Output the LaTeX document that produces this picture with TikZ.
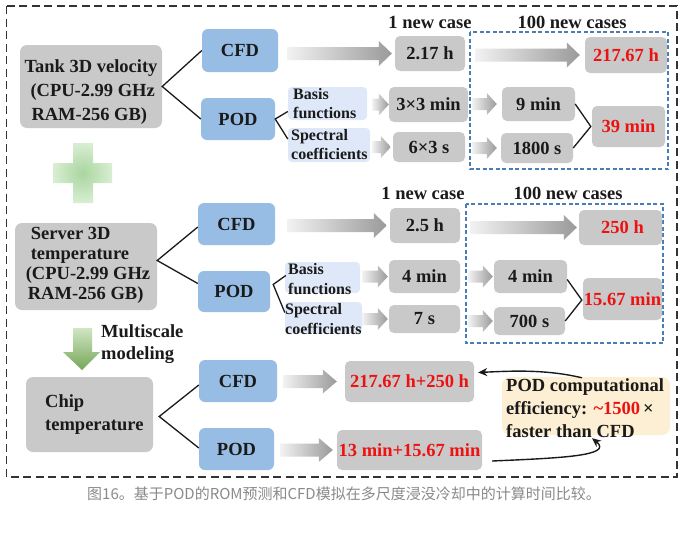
\documentclass[tikz,border=0pt]{standalone}
\usepackage{fontspec}
\setmainfont{Liberation Serif}[BoldFont={Liberation Serif Bold}]
\newfontfamily\tnr{Liberation Serif}[BoldFont={Liberation Serif Bold}]
\newfontfamily\cjk{Noto Sans CJK SC}
\usetikzlibrary{calc,arrows.meta}
\definecolor{boxgray}{HTML}{C9C9C9}
\definecolor{boxblue}{HTML}{97BDE5}
\definecolor{boxlt}{HTML}{DFE8F8}
\definecolor{boxorange}{HTML}{FDEFD3}
\definecolor{txtc}{HTML}{1A1A1A}
\definecolor{redc}{HTML}{EE1111}
\definecolor{dashblue}{HTML}{4A7CB5}
\definecolor{arrL}{HTML}{F2F2F2}
\definecolor{arrR}{HTML}{9A9A9A}
\definecolor{plusC}{HTML}{A9D59F}
\definecolor{plusO}{HTML}{D8EED2}
\definecolor{garT}{HTML}{CFE6C3}
\definecolor{garB}{HTML}{76A658}
\definecolor{capgray}{HTML}{8A8A8A}
% gradient block arrow: from node #1 to node #2, tail gap #3, tip gap #4, shaft half #5, head half #6, head length #7
\newcommand{\garrow}[7]{%
  \shade[left color=arrL,right color=arrR] let \p1=($(#1.east)+(#3,0)$), \p2=($(#2.west)-(#4,0)$) in
  (\x1,\y2+#5pt) -- (\x2-#7pt,\y2+#5pt) -- (\x2-#7pt,\y2+#6pt) -- (\x2,\y2) --
  (\x2-#7pt,\y2-#6pt) -- (\x2-#7pt,\y2-#5pt) -- (\x1,\y2-#5pt) -- cycle;}
\begin{document}
\begin{tikzpicture}[x=1pt,y=-1pt,
  wh/.style 2 args={minimum width=#1pt, minimum height=#2pt},
  txt/.style={font=\tnr\fontsize{18.5}{24}\selectfont\bfseries, text=txtc, inner sep=0pt},
  smalltxt/.style={font=\tnr\fontsize{16}{19.5}\selectfont\bfseries, text=txtc, inner sep=0pt, align=left},
  graybox/.style={fill=boxgray, rounded corners=7pt, inner sep=0pt},
  bluebox/.style={txt, fill=boxblue, rounded corners=6pt},
  ltbox/.style={fill=boxlt, rounded corners=4pt, inner sep=0pt},
  valbox/.style={txt, fill=boxgray, rounded corners=5pt},
  redval/.style={valbox, text=redc},
  head/.style={txt},
  conn/.style={draw=txtc, line width=1.3pt},
  outer/.style={draw=black!80, line width=1.8pt, dash pattern=on 8pt off 4.5pt},
  blued/.style={draw=dashblue, line width=1.3pt, dash pattern=on 4pt off 2.5pt},
  effarrow/.style={draw=txtc, line width=1.4pt, -{Stealth[length=9pt,width=8pt]}}]
\useasboundingbox (0,0) rectangle (684,533);
\fill[white] (0,0) rectangle (684,533);
\draw[outer] (6.5,6) rectangle (677,477);

% ---------- dashed regions ----------
\draw[blued] (470,32) rectangle (668,169);
\draw[blued] (466,204) rectangle (663,343);

% ---------- headers ----------
\node[head] (h1a) at (430,22) {1 new case};
\node[head] (h1b) at (572,22) {100 new cases};
\node[head] (h2a) at (423,193) {1 new case};
\node[head] (h2b) at (568,193) {100 new cases};

% ---------- Tank ----------
\node[graybox, wh={142}{83}] (tank) at (91,86.5) {};
\node[txt, align=left] (tanktxt) at (91,92) {Tank 3D velocity\\\hspace*{6pt}(CPU-2.99 GHz\\\hspace*{7pt}RAM-256 GB)};
\node[bluebox, wh={76}{43}] (tcfd) at (240,50.5) {CFD};
\node[bluebox, wh={74}{42}] (tpod) at (238,119) {POD};
\draw[conn] (tcfd.west) -- (tank.east) -- (tpod.west);
\node[ltbox, wh={79}{33}] (tbasis) at (327.5,103.5) {};
\node[smalltxt, anchor=west] (tbasistxt) at (293,103.5) {Basis\\functions};
\node[ltbox, wh={82}{34}] (tspec) at (329,145) {};
\node[smalltxt, anchor=west] (tspectxt) at (291,144.5) {Spectral\\coefficients};
\draw[conn] ($(tbasis.west)+(0,8)$) -- (tpod.east) -- ($(tspec.west)+(0,-6)$);
\node[valbox, wh={70}{35}] (t1) at (430,53.5) {2.17 h};
\node[redval, wh={82}{36}] (t100) at (626,55) {217.67 h};
\node[valbox, wh={79}{35}] (t3x3) at (428.5,104.5) {3\texttimes3 min};
\node[valbox, wh={73}{34}] (t9) at (538.5,104) {9 min};
\node[valbox, wh={72}{30}] (t6x3) at (429,147) {6\texttimes3 s};
\node[valbox, wh={72}{30}] (t1800) at (537,148) {1800 s};
\node[redval, wh={73}{41}] (t39) at (628.5,126.5) {39 min};
\garrow{tcfd}{t1}{9}{3}{6.5}{12.5}{13}
\garrow{t1}{t100}{10}{5}{6.5}{12.5}{13}
\garrow{tbasis}{t3x3}{5}{0}{6}{11}{10}
\garrow{t3x3}{t9}{4}{5}{6}{11}{10}
\garrow{tspec}{t6x3}{2}{2}{6}{11}{10}
\garrow{t6x3}{t1800}{7}{4}{6}{11}{10}
\draw[conn] (t9.east) -- ($(t39.west)+(-1,0)$) -- (t1800.east);

% ---------- plus ----------
\shade[inner color=plusC, outer color=plusO] (73,143) -- (93,143) -- (93,163) -- (112,163) -- (112,183) -- (93,183) -- (93,203) -- (73,203) -- (73,183) -- (53,183) -- (53,163) -- (73,163) -- cycle;

% ---------- Server ----------
\node[graybox, wh={142}{87}] (server) at (86,266.5) {};
\node[txt, align=left, font=\tnr\fontsize{18.5}{20}\selectfont\bfseries] (servertxt) at (88,265) {\hspace*{5pt}Server 3D\\\hspace*{5pt}temperature\\(CPU-2.99 GHz\\\hspace*{2pt}RAM-256 GB)};
\node[bluebox, wh={77}{42}] (scfd) at (236.5,224) {CFD};
\node[bluebox, wh={72}{41}] (spod) at (234,291.5) {POD};
\draw[conn] ($(scfd.west)+(0,3)$) -- ($(server.east)+(0,-6)$) -- ($(spod.west)+(0,-8)$);
\node[ltbox, wh={75}{31}] (sbasis) at (322.5,277.5) {};
\node[smalltxt, anchor=west] (sbasistxt) at (288,279) {Basis\\functions};
\node[ltbox, wh={77}{31}] (sspec) at (323.5,317.5) {};
\node[smalltxt, anchor=west] (sspectxt) at (285,319) {Spectral\\coefficients};
\draw[conn] ($(sbasis.west)+(1,-2)$) -- ($(spod.east)+(3,-7)$) -- ($(sspec.west)+(0,-5)$);
\node[valbox, wh={70}{35}] (s1) at (425,225.5) {2.5 h};
\node[redval, wh={83}{35}] (s100) at (620.5,227.5) {\hspace*{4pt}250 h};
\node[valbox, wh={71}{33}] (s4) at (424.5,276.5) {4 min};
\node[valbox, wh={73}{33}] (s4b) at (530.5,276.5) {4 min};
\node[valbox, wh={71}{28}] (s7) at (424.5,319) {7 s};
\node[valbox, wh={71}{28}] (s700) at (529.5,321) {700 s};
\node[redval, wh={79}{42}] (s1567) at (622.5,299) {15.67 min};
\garrow{scfd}{s1}{12}{3}{6.5}{12.5}{13}
\garrow{s1}{s100}{10}{2}{6.5}{12.5}{13}
\garrow{sbasis}{s4}{2}{1}{6}{11}{10}
\garrow{s4}{s4b}{8}{1}{6}{11}{10}
\garrow{sspec}{s7}{0}{1}{6}{11}{10}
\garrow{s7}{s700}{8}{1}{6}{11}{10}
\draw[conn] ($(s4b.east)+(0,3)$) -- ($(s1567.west)+(-1,1)$) -- (s700.east);

% ---------- multiscale arrow ----------
\shade[top color=garT, bottom color=garB] (73,328) -- (92,328) -- (92,352) -- (100,352) -- (82,370) -- (63,352) -- (73,352) -- cycle;
\node[txt, align=left, anchor=west, font=\tnr\fontsize{18.5}{22}\selectfont\bfseries] (multi) at (101,344) {Multiscale\\modeling};

% ---------- Chip ----------
\node[graybox, wh={127}{75}] (chip) at (89.5,414.5) {};
\node[txt, align=left, anchor=west, font=\tnr\fontsize{18.5}{23}\selectfont\bfseries] (chiptxt) at (45,415) {Chip\\temperature};
\node[bluebox, wh={78}{42}] (ccfd) at (238,381) {CFD};
\node[bluebox, wh={75}{42}] (cpod) at (236.5,449) {POD};
\draw[conn] ($(ccfd.west)+(0,4)$) -- ($(chip.east)+(6,2)$) -- ($(cpod.west)+(0,-1)$);
\node[redval, wh={129}{41}] (c1) at (409.5,381.5) {217.67 h+250 h};
\node[redval, wh={145}{40}] (c2) at (409.5,450) {13 min+15.67 min};
\garrow{ccfd}{c1}{6}{8}{6.5}{12}{14}
\garrow{cpod}{c2}{6}{4}{6.5}{12}{14}

% ---------- efficiency ----------
\node[fill=boxorange, rounded corners=8pt, inner sep=0pt, wh={168}{58}] (eff) at (586,406) {};
\node[txt, align=left, anchor=west, font=\tnr\fontsize{18.5}{23}\selectfont\bfseries] (efftxt) at (506,408) {POD computational\\efficiency: {\color{redc}\textasciitilde1500}\,\texttimes\\faster than CFD};
\draw[effarrow] ($(eff.north)+(-4,1)$) .. controls (545,369) and (510,371) .. ($(c1.east)+(4,-9)$);
\draw[effarrow] ($(c2.east)+(10,11)$) .. controls (560,458) and (614,456) .. ($(eff.south)+(6,3)$);

% ---------- caption ----------
\node[font=\cjk\fontsize{15}{17}\selectfont, text=capgray, inner sep=0pt] (cap) at (344,494) {图16。基于POD的ROM预测和CFD模拟在多尺度浸没冷却中的计算时间比较。};
\end{tikzpicture}
\end{document}
